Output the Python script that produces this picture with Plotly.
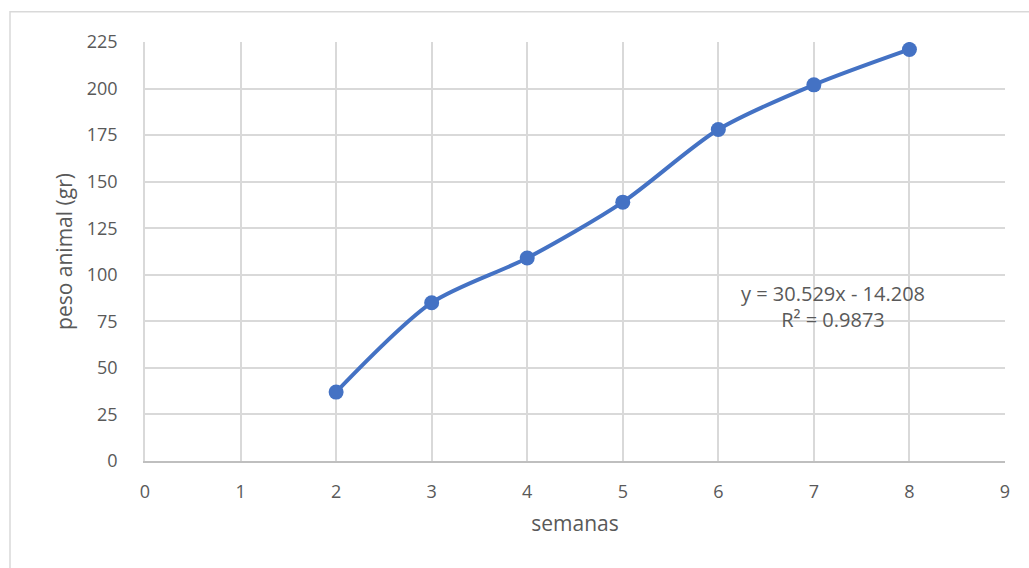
import plotly.graph_objects as go

# Weekly body weight
semanas = [2, 3, 4, 5, 6, 7, 8]
peso = [37, 85, 109, 139, 178, 202, 221]

x_ticks = list(range(0, 10))
y_ticks = list(range(0, 226, 25))

eq_text = "y = 30.529x - 14.208<br>R² = 0.9873"

BLUE = "#4472C4"
GRID = "#d9d9d9"
TXT = "#595959"
FONT = "Open Sans"

fig = go.Figure()
fig.add_trace(go.Scatter(
    x=semanas, y=peso,
    mode="lines+markers",
    line=dict(color=BLUE, width=4, shape="spline", smoothing=0.8),
    marker=dict(color=BLUE, size=15),
    showlegend=False,
    hoverinfo="x+y",
))

fig.add_annotation(
    x=7.2, y=83, xref="x", yref="y",
    text=eq_text, showarrow=False,
    font=dict(family=FONT, size=20, color=TXT),
    align="center",
)

# outer chart frame
fig.add_shape(
    type="rect", xref="paper", yref="paper",
    x0=(10 - 145) / 860, x1=(1040 - 145) / 860,
    y0=-0.4, y1=(460.8 - 12) / 418.5,
    line=dict(color="#d9d9d9", width=1.5),
    fillcolor="rgba(0,0,0,0)", layer="below",
)

fig.update_layout(
    width=1029, height=568,
    margin=dict(l=145, r=24, t=42, b=107),
    paper_bgcolor="white", plot_bgcolor="white",
    font=dict(family=FONT, color=TXT),
    xaxis=dict(
        range=[0, 9], tickvals=x_ticks, ticktext=[str(v) for v in x_ticks],
        showgrid=True, gridcolor=GRID, gridwidth=1.5,
        zeroline=False, showline=True, linecolor="#bfbfbf", linewidth=1.5,
        tickfont=dict(family=FONT, size=18, color=TXT),
        ticklabelstandoff=14,
        title=dict(text="semanas", font=dict(family=FONT, size=21, color=TXT), standoff=14),
    ),
    yaxis=dict(
        range=[0, 225], tickvals=y_ticks, ticktext=[str(v) for v in y_ticks],
        showgrid=True, gridcolor=GRID, gridwidth=1.5,
        zeroline=False, showline=True, linecolor=GRID, linewidth=1.5,
        tickfont=dict(family=FONT, size=18, color=TXT),
        ticklabelstandoff=22,
        title=dict(text="peso animal (gr)", font=dict(family=FONT, size=21, color=TXT), standoff=8),
    ),
)

fig.write_html("out.html")
